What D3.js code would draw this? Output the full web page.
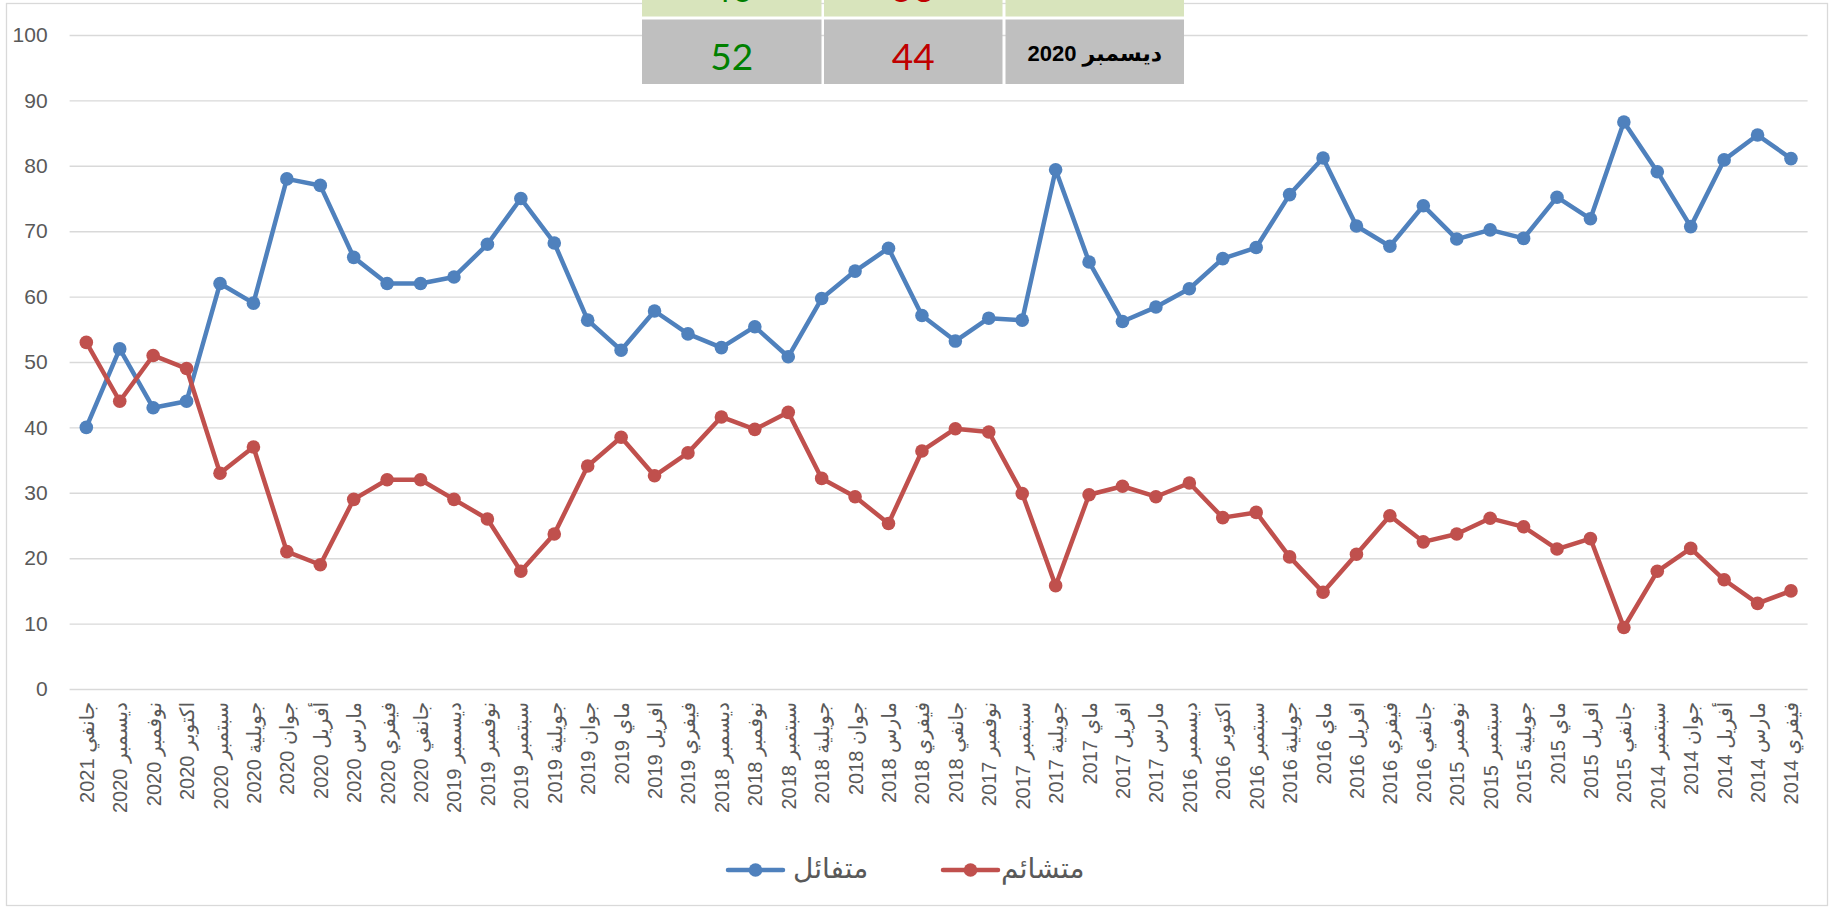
<!DOCTYPE html>
<html>
<head>
<meta charset="utf-8">
<script src="https://cdn.jsdelivr.net/npm/d3@7/dist/d3.min.js"></script>
<style>
  body { margin: 0; background: #fff; }
  svg text { font-family: "Liberation Sans", Arial, "DejaVu Sans", sans-serif; }
</style>
</head>
<body>
<svg id="chart" width="1831" height="908"></svg>
<script>
// categories, left to right (newest first)
var months = [
  "جانفي 2021", "ديسمبر 2020", "نوفمبر 2020", "اكتوبر 2020", "سبتمبر 2020", "جويلية 2020",
  "جوان 2020", "أفريل 2020", "مارس 2020", "فيفري 2020", "جانفي 2020", "ديسمبر 2019",
  "نوفمبر 2019", "سبتمبر 2019", "جويلية 2019", "جوان 2019", "ماي 2019", "افريل 2019",
  "فيفري 2019", "ديسمبر 2018", "نوفمبر 2018", "سبتمبر 2018", "جويلية 2018", "جوان 2018",
  "مارس 2018", "فيفري 2018", "جانفي 2018", "نوفمبر 2017", "سبتمبر 2017", "جويلية 2017",
  "ماي 2017", "افريل 2017", "مارس 2017", "ديسمبر 2016", "اكتوبر 2016", "سبتمبر 2016",
  "جويلية 2016", "ماي 2016", "افريل 2016", "فيفري 2016", "جانفي 2016", "نوفمبر 2015",
  "سبتمبر 2015", "جويلية 2015", "ماي 2015", "افريل 2015", "جانفي 2015", "سبتمبر 2014",
  "جوان 2014", "أفريل 2014", "مارس 2014", "فيفري 2014"
];

var optimistic = [
  40, 52, 43, 44, 62, 59, 78, 77, 66, 62, 62, 63, 68, 75, 68.2, 56.4, 51.8, 57.8,
  54.3, 52.2, 55.4, 50.8, 59.7, 63.9, 67.4, 57.1, 53.2, 56.7, 56.4, 79.4, 65.3, 56.2,
  58.4, 61.2, 65.8, 67.5, 75.6, 81.2, 70.8, 67.7, 73.9, 68.8, 70.2, 68.9, 75.2, 71.9,
  86.7, 79.1, 70.7, 80.9, 84.7, 81.1
];

var pessimistic = [
  53, 44, 51, 49, 33, 37, 21, 19, 29, 32, 32, 29, 26, 18, 23.7, 34.1, 38.5, 32.6,
  36.1, 41.6, 39.7, 42.3, 32.2, 29.4, 25.3, 36.4, 39.8, 39.3, 29.9, 15.8, 29.7, 31,
  29.4, 31.5, 26.2, 27, 20.2, 14.8, 20.6, 26.5, 22.5, 23.7, 26.1, 24.8, 21.4, 23,
  9.4, 18, 21.5, 16.7, 13.1, 15
];

var yTicks = [0, 10, 20, 30, 40, 50, 60, 70, 80, 90, 100];

var seriesNames = ["متفائل", "متشائم"];
var seriesColors = ["#4F81BD", "#C0504D"];

// summary table at the top
var tableMonths = ["جانفي 2021", "ديسمبر 2020"];
var tableOptimistic = [40, 52];
var tablePessimistic = [53, 44];

var svg = d3.select("#chart");

// chart frame
svg.append("rect")
    .attr("x", 6.5).attr("y", 3.5)
    .attr("width", 1821).attr("height", 902)
    .attr("fill", "#fff")
    .attr("stroke", "#D9D9D9")
    .attr("stroke-width", 1.3);

var x = d3.scalePoint()
    .domain(months)
    .range([69.6, 1807.7])
    .padding(0.5);

var y = d3.scaleLinear()
    .domain([0, 100])
    .range([689, 35]);

// gridlines + y labels
var yAxis = svg.append("g")
    .attr("transform", "translate(69.6,0)")
    .call(d3.axisLeft(y).tickValues(yTicks).tickSize(-1738).tickPadding(22));

yAxis.select(".domain").remove();
yAxis.selectAll(".tick line")
    .attr("stroke", "#D9D9D9")
    .attr("stroke-width", 1.4);
yAxis.selectAll(".tick text")
    .attr("fill", "#595959")
    .style("font-size", "21px")
    .style("font-family", "'Liberation Sans', Arial, sans-serif");

// x labels
var xAxis = svg.append("g")
    .attr("transform", "translate(0,689)")
    .call(d3.axisBottom(x).tickSize(0).tickPadding(0));

xAxis.select(".domain").remove();
xAxis.selectAll(".tick text")
    .attr("fill", "#595959")
    .style("font-size", "20px")
    .attr("text-anchor", "end")
    .attr("dy", "0.35em")
    .attr("transform", "translate(0,13) rotate(-90)")
    .attr("x", 0)
    .attr("y", 0);

// series
var series = [optimistic, pessimistic];

var line = d3.line()
    .x(function(d, i) { return x(months[i]); })
    .y(function(d) { return y(d); });

series.forEach(function(vals, s) {
    var g = svg.append("g");
    g.append("path")
        .datum(vals)
        .attr("fill", "none")
        .attr("stroke", seriesColors[s])
        .attr("stroke-width", 4.5)
        .attr("stroke-linejoin", "round")
        .attr("d", line);
    g.selectAll("circle")
        .data(vals)
        .enter().append("circle")
        .attr("cx", function(d, i) { return x(months[i]); })
        .attr("cy", function(d) { return y(d); })
        .attr("r", 6.8)
        .attr("fill", seriesColors[s]);
});

// table (first row is cut by the top edge)
var colX = [642, 824, 1005.5];
var colW = [179.5, 178.5, 178.5];
var rowY = [-48, 19.5];
var rowH = 64.5;
var rowFill = ["#D8E4BC", "#BFBFBF"];

var table = svg.append("g");
tableMonths.forEach(function(m, r) {
    var cells = [
        { text: tableOptimistic[r], color: "#008000", size: 37, weight: "normal", base: 50 },
        { text: tablePessimistic[r], color: "#C00000", size: 37, weight: "normal", base: 50 },
        { text: m, color: "#000", size: 22, weight: "bold", base: 41 }
    ];
    cells.forEach(function(c, k) {
        table.append("rect")
            .attr("x", colX[k]).attr("y", rowY[r])
            .attr("width", colW[k]).attr("height", rowH)
            .attr("fill", rowFill[r]);
        table.append("text")
            .attr("x", colX[k] + colW[k] / 2)
            .attr("y", rowY[r] + c.base)
            .attr("text-anchor", "middle")
            .attr("fill", c.color)
            .style("font-size", c.size + "px")
            .style("font-weight", c.weight)
            .style("font-family", k < 2 ? "Lato, 'Open Sans', sans-serif" : "'Liberation Sans', Arial, 'DejaVu Sans', sans-serif")
            .text(c.text);
    });
});

// legend
var legendX = [728, 943];
var legendTextX = [793, 1001];
var legend = svg.append("g").attr("transform", "translate(0,870)");
seriesNames.forEach(function(name, s) {
    var lg = legend.append("g");
    lg.append("line")
        .attr("x1", legendX[s]).attr("x2", legendX[s] + 55)
        .attr("stroke", seriesColors[s])
        .attr("stroke-width", 4.5)
        .attr("stroke-linecap", "round");
    lg.append("circle")
        .attr("cx", legendX[s] + 27.5).attr("r", 6.8)
        .attr("fill", seriesColors[s]);
    lg.append("text")
        .attr("x", legendTextX[s])
        .attr("dy", "0.3em")
        .attr("text-anchor", "start")
        .attr("fill", "#595959")
        .style("font-size", "28px")
        .text(name);
});
</script>
</body>
</html>
